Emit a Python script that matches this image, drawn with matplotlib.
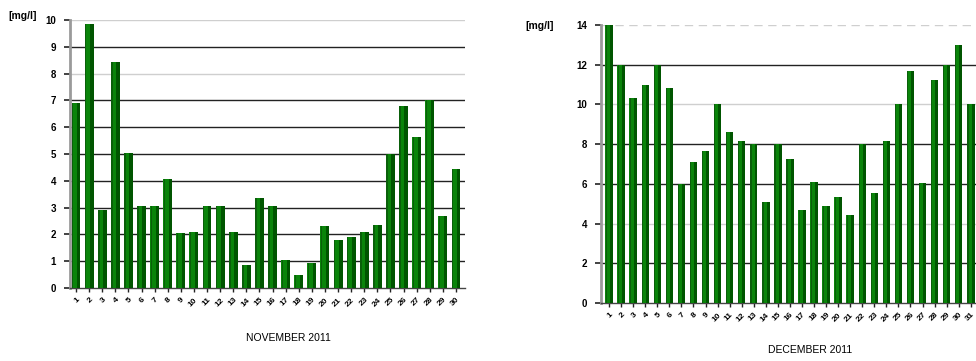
import matplotlib
matplotlib.use("Agg")
import matplotlib.pyplot as plt
import numpy as np

plt.rcParams['font.family'] = ['Liberation Sans', 'DejaVu Sans']

# Daily concentrations [mg/l]
nov_days = list(range(1, 31))
nov_values = [6.9, 9.85, 2.9, 8.45, 5.05, 3.05, 3.05, 4.05, 2.05, 2.1,
              3.05, 3.05, 2.1, 0.85, 3.35, 3.05, 1.05, 0.5, 0.95, 2.3,
              1.8, 1.9, 2.1, 2.35, 5.0, 6.8, 5.65, 7.0, 2.7, 4.45]
dec_days = list(range(1, 32))
dec_values = [14.05, 12.0, 10.3, 11.0, 12.0, 10.85, 6.0, 7.1, 7.65, 10.0,
              8.6, 8.15, 8.0, 5.1, 8.0, 7.25, 4.7, 6.1, 4.9, 5.35,
              4.45, 8.0, 5.55, 8.15, 10.0, 11.7, 6.05, 11.25, 12.0, 13.0, 10.0]
nov_yticks = list(range(0, 11))
dec_yticks = list(range(0, 15, 2))
nov_title = "NOVEMBER 2011"
dec_title = "DECEMBER 2011"
unit = "[mg/l]"

fig = plt.figure(figsize=(9.76, 3.61), dpi=100)
W, H = 976, 361


def px_axes(x0, y0, x1, y1):
    return fig.add_axes([x0 / W, 1 - y1 / H, (x1 - x0) / W, (y1 - y0) / H])


def draw_bars(ax, days, vals, width):
    days = np.asarray(days, float)
    ax.bar(days, vals, width=width, color='#0a840a', zorder=3, linewidth=0)
    # darker shaded side of each column
    ax.bar(days + width * 0.3, vals, width=width * 0.4, color='#005500',
           zorder=4, linewidth=0)
    ax.bar(days - width * 0.38, vals, width=width * 0.16, color='#0a5f0a',
           zorder=4, linewidth=0)


def style(ax, yticks, days, grid_styles, ylim):
    ax.set_ylim(*ylim)
    for spine in ['top', 'right']:
        ax.spines[spine].set_visible(False)
    ax.spines['left'].set_color('#9a9a9a')
    ax.spines['left'].set_linewidth(2.0)
    ax.spines['bottom'].set_color('#444444')
    ax.spines['bottom'].set_linewidth(1.0)
    for y, (c, ls) in grid_styles.items():
        ax.axhline(y, color=c, lw=1.0, ls=ls, zorder=1)
    ax.set_yticks(yticks)
    ax.set_yticklabels([str(v) for v in yticks], fontsize=7, fontweight='bold')
    ax.tick_params(axis='y', length=4, width=1.2, color='#222222', pad=6)
    ax.set_xticks(days)
    ax.set_xticklabels([str(d) for d in days], rotation=45, fontsize=6,
                       ha='right', rotation_mode='anchor', fontweight='bold')
    ax.tick_params(axis='x', length=3, width=1.0, color='#222222', pad=3)
    ax.set_facecolor('white')


# November
ax1 = px_axes(70, 20, 465, 288)
ax1.set_xlim(0.54, 30.69)
draw_bars(ax1, nov_days, nov_values, 0.68)
nov_grid = {v: ('#222222', '-') for v in range(1, 10)}
nov_grid[10] = ('#cfcfcf', '-')
nov_grid[8] = ('#cfcfcf', '-')
style(ax1, nov_yticks, nov_days, nov_grid, (0, 10))
fig.text(8 / W, 1 - 16 / H, unit, fontsize=7.5, fontweight='bold', va='center')
fig.text(288 / W, 1 - 338 / H, nov_title, fontsize=7.5, ha='center', va='center')

# December
ax2 = px_axes(601, 25, 978, 303)
ax2.set_xlim(0.33, 31.6)
draw_bars(ax2, dec_days, dec_values, 0.62)
dec_grid = {2: ('#222222', '-'), 4: ('#cfcfcf', '-'), 6: ('#222222', '-'),
            8: ('#222222', '-'), 10: ('#cfcfcf', '-'), 12: ('#222222', '-'),
            14: ('#cfcfcf', (0, (6, 4)))}
style(ax2, dec_yticks, dec_days, dec_grid, (0, 14))
fig.text(525 / W, 1 - 26 / H, unit, fontsize=7.5, fontweight='bold', va='center')
fig.text(810 / W, 1 - 350 / H, dec_title, fontsize=7.5, ha='center', va='center')

fig.savefig("out.png", dpi=100)
